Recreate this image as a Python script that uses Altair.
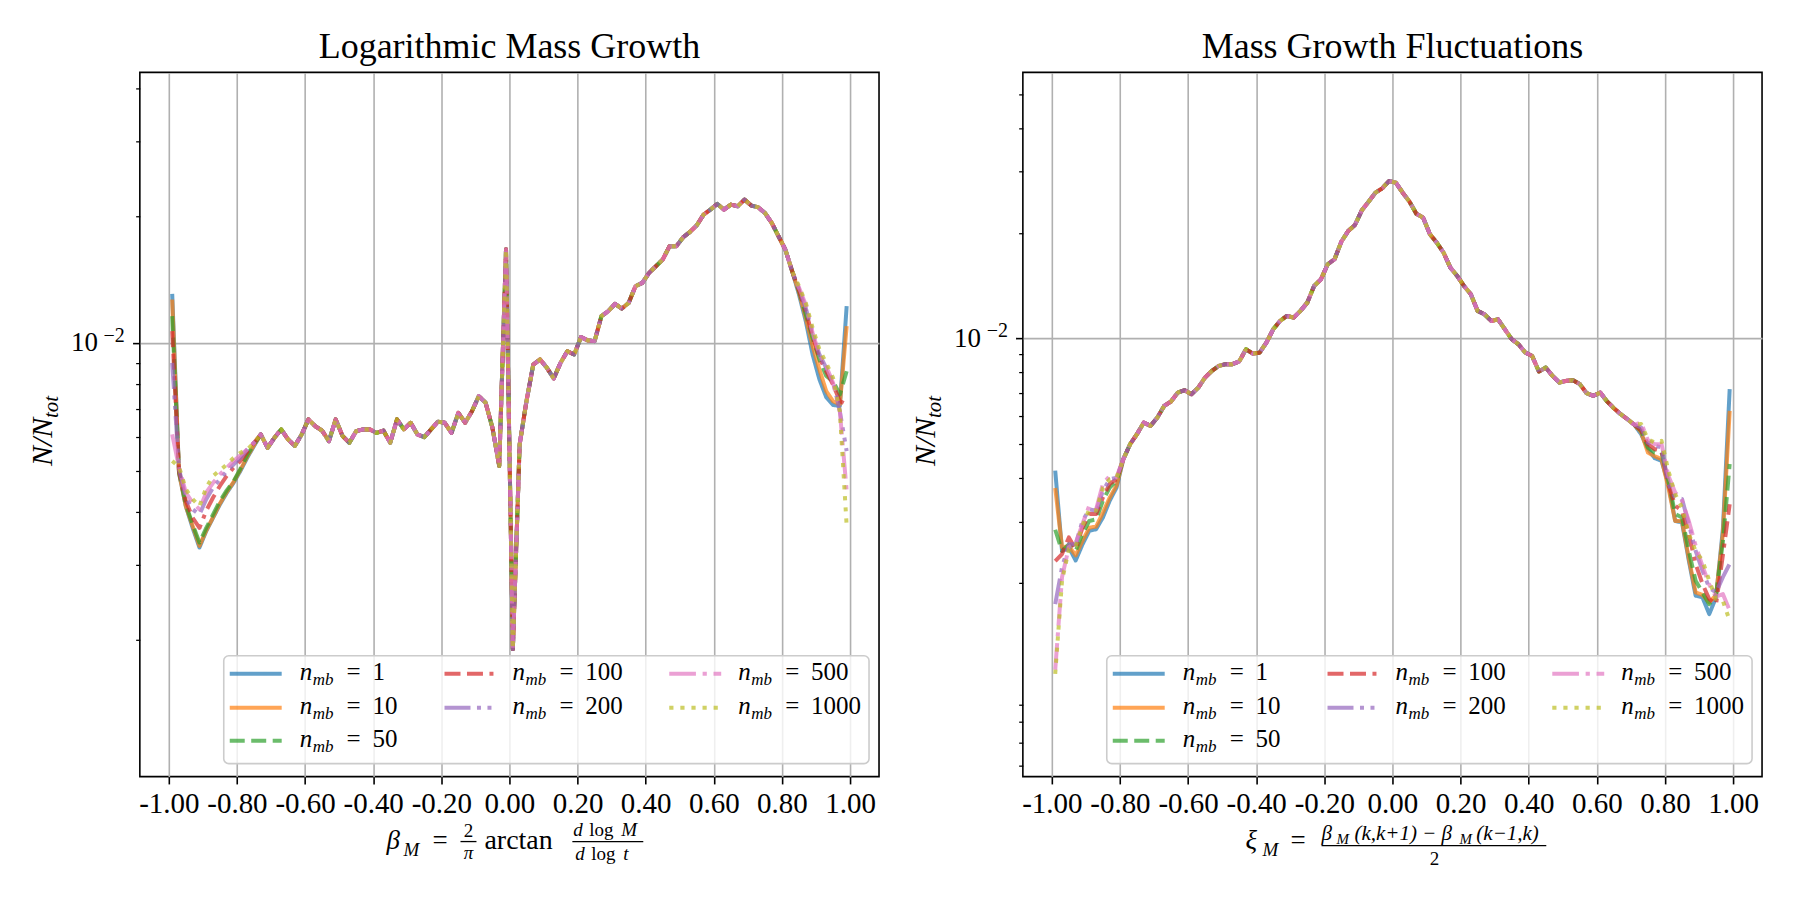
import altair as alt
import pandas as pd

FONT = "Liberation Serif"

SERIES = ["1", "10", "50", "100", "200", "500", "1000"]
COLORS = ["#1f77b4", "#ff7f0e", "#2ca02c", "#d62728", "#9467bd", "#e377c2", "#bcbd22"]
DASHES = [
    [1, 0],
    [1, 0],
    [15, 6.5],
    [16, 6.5, 16, 6.5, 4, 6.5],
    [26, 6.5, 4, 6.5, 4, 6.5],
    [26.7, 6.7, 4.2, 6.7],
    [4.2, 6.9],
]

# histogram bin centres (100 bins of width 0.02 on [-1, 1])
BIN_CENTERS = [round(-0.99 + 0.02 * k, 2) for k in range(100)]

XTICKS = [-1.0, -0.8, -0.6, -0.4, -0.2, 0.0, 0.2, 0.4, 0.6, 0.8, 1.0]

# ---------------- beta_M distribution ----------------
BETA_HEAD = {  # bins 0..12
    "1":    [0.01310, 0.00495, 0.00413, 0.00367, 0.00330, 0.00361, 0.00388, 0.00417, 0.00444, 0.00469, 0.00500, 0.00537, 0.00573],
    "10":   [0.01270, 0.00495, 0.00413, 0.00371, 0.00333, 0.00362, 0.00389, 0.00419, 0.00446, 0.00471, 0.00503, 0.00540, 0.00575],
    "50":   [0.01160, 0.00497, 0.00417, 0.00374, 0.00339, 0.00367, 0.00395, 0.00425, 0.00450, 0.00473, 0.00506, 0.00545, 0.00578],
    "100":  [0.01069, 0.00500, 0.00425, 0.00388, 0.00367, 0.00403, 0.00433, 0.00461, 0.00487, 0.00509, 0.00528, 0.00555, 0.00583],
    "200":  [0.00900, 0.00505, 0.00433, 0.00406, 0.00395, 0.00429, 0.00457, 0.00478, 0.00500, 0.00518, 0.00537, 0.00562, 0.00583],
    "500":  [0.00610, 0.00510, 0.00445, 0.00421, 0.00406, 0.00445, 0.00469, 0.00491, 0.00509, 0.00528, 0.00545, 0.00562, 0.00583],
    "1000": [0.00528, 0.00512, 0.00453, 0.00429, 0.00413, 0.00457, 0.00487, 0.00502, 0.00518, 0.00537, 0.00552, 0.00562, 0.00583],
}
BETA_SHARED = [  # bins 13..91
    0.00610, 0.00567, 0.00599, 0.00627, 0.00594, 0.00573, 0.00610, 0.00662, 0.00638, 0.00623,
    0.00588, 0.00662, 0.00605, 0.00583, 0.00621, 0.00627, 0.00627, 0.00615, 0.00623, 0.00583,
    0.00662, 0.00627, 0.00650, 0.00610, 0.00601, 0.00627, 0.00654, 0.00650, 0.00615, 0.00686,
    0.00650, 0.00692, 0.00751, 0.00725, 0.00633, 0.00514, 0.01670, 0.00190, 0.00578, 0.00731,
    0.00892, 0.00917, 0.00876, 0.00827, 0.00900, 0.00959, 0.00942, 0.01035, 0.01017, 0.01013,
    0.01160, 0.01192, 0.01240, 0.01209, 0.01247, 0.01365, 0.01390, 0.01468, 0.01522, 0.01578,
    0.01697, 0.01697, 0.01781, 0.01834, 0.01901, 0.02015, 0.02070, 0.02135, 0.02070, 0.02127,
    0.02108, 0.02186, 0.02116, 0.02097, 0.02033, 0.01926, 0.01791, 0.01666, 0.01481,
]
BETA_TAIL = {  # bins 92..99
    "1":    [0.01305, 0.01129, 0.00942, 0.00823, 0.00747, 0.00716, 0.00712, 0.01225],
    "10":   [0.01320, 0.01149, 0.00986, 0.00868, 0.00772, 0.00731, 0.00718, 0.01099],
    "50":   [0.01330, 0.01171, 0.01031, 0.00917, 0.00838, 0.00815, 0.00758, 0.00860],
    "100":  [0.01335, 0.01192, 0.01041, 0.00925, 0.00860, 0.00800, 0.00731, 0.00718],
    "200":  [0.01345, 0.01213, 0.01060, 0.00942, 0.00876, 0.00815, 0.00692, 0.00557],
    "500":  [0.01355, 0.01235, 0.01060, 0.00942, 0.00884, 0.00808, 0.00692, 0.00449],
    "1000": [0.01365, 0.01247, 0.01089, 0.00968, 0.00900, 0.00830, 0.00692, 0.00371],
}

# ---------------- xi_M distribution ----------------
XI_HEAD = {  # bins 0..9
    "1":    [0.00419, 0.00247, 0.00253, 0.00232, 0.00258, 0.00282, 0.00285, 0.00308, 0.00344, 0.00375],
    "10":   [0.00374, 0.00253, 0.00255, 0.00240, 0.00264, 0.00288, 0.00290, 0.00318, 0.00351, 0.00380],
    "50":   [0.00284, 0.00247, 0.00258, 0.00247, 0.00276, 0.00301, 0.00304, 0.00344, 0.00375, 0.00392],
    "100":  [0.00231, 0.00242, 0.00270, 0.00250, 0.00288, 0.00315, 0.00315, 0.00351, 0.00384, 0.00396],
    "200":  [0.00174, 0.00222, 0.00258, 0.00258, 0.00301, 0.00325, 0.00322, 0.00367, 0.00396, 0.00400],
    "500":  [0.00113, 0.00208, 0.00253, 0.00260, 0.00295, 0.00333, 0.00325, 0.00384, 0.00405, 0.00402],
    "1000": [0.00110, 0.00203, 0.00250, 0.00255, 0.00292, 0.00325, 0.00322, 0.00375, 0.00396, 0.00400],
}
XI_SHARED = [  # bins 10..85
    0.00452, 0.00499, 0.00533, 0.00575, 0.00563, 0.00595, 0.00642, 0.00661, 0.00701, 0.00712,
    0.00693, 0.00724, 0.00774, 0.00809, 0.00835, 0.00845, 0.00845, 0.00860, 0.00932, 0.00906,
    0.00911, 0.00974, 0.01063, 0.01123, 0.01161, 0.01148, 0.01200, 0.01267, 0.01414, 0.01477,
    0.01631, 0.01686, 0.01893, 0.02030, 0.02113, 0.02326, 0.02463, 0.02613, 0.02689, 0.02822,
    0.02791, 0.02613, 0.02463, 0.02276, 0.02217, 0.01987, 0.01881, 0.01761, 0.01596, 0.01510,
    0.01414, 0.01339, 0.01200, 0.01174, 0.01123, 0.01135, 0.01063, 0.00996, 0.00963, 0.00912,
    0.00892, 0.00805, 0.00826, 0.00782, 0.00749, 0.00757, 0.00760, 0.00741, 0.00698, 0.00686,
    0.00701, 0.00661, 0.00632, 0.00608, 0.00588, 0.00567,
]
XI_TAIL = {  # bins 86..99
    "1":    [0.00533, 0.00483, 0.00455, 0.00447, 0.00384, 0.00301, 0.00298, 0.00232, 0.00184, 0.00182, 0.00163, 0.00182, 0.00285, 0.00717],
    "10":   [0.00540, 0.00472, 0.00461, 0.00452, 0.00375, 0.00301, 0.00301, 0.00235, 0.00188, 0.00185, 0.00176, 0.00185, 0.00276, 0.00621],
    "50":   [0.00545, 0.00488, 0.00472, 0.00472, 0.00392, 0.00315, 0.00308, 0.00247, 0.00203, 0.00188, 0.00174, 0.00185, 0.00262, 0.00438],
    "100":  [0.00547, 0.00499, 0.00483, 0.00478, 0.00384, 0.00333, 0.00322, 0.00276, 0.00227, 0.00199, 0.00180, 0.00174, 0.00240, 0.00336],
    "200":  [0.00557, 0.00504, 0.00494, 0.00488, 0.00384, 0.00351, 0.00348, 0.00295, 0.00247, 0.00217, 0.00194, 0.00188, 0.00208, 0.00227],
    "500":  [0.00575, 0.00512, 0.00499, 0.00499, 0.00405, 0.00363, 0.00344, 0.00301, 0.00256, 0.00224, 0.00198, 0.00183, 0.00186, 0.00167],
    "1000": [0.00570, 0.00515, 0.00504, 0.00510, 0.00419, 0.00359, 0.00329, 0.00276, 0.00247, 0.00232, 0.00203, 0.00180, 0.00178, 0.00156],
}

BETA_YDOMAIN = [9.50e-4, 4.363e-2]
XI_YDOMAIN = [5.59e-4, 5.768e-2]
BETA_YTICKS = [0.002, 0.003, 0.004, 0.005, 0.006, 0.007, 0.008, 0.009, 0.01, 0.02, 0.03, 0.04]
XI_YTICKS = [0.0006, 0.0007, 0.0008, 0.0009, 0.002, 0.003, 0.004, 0.005, 0.006, 0.007,
             0.008, 0.009, 0.01, 0.02, 0.03, 0.04, 0.05]

PANEL_W, PANEL_H = 740, 705


def long_table(head, shared, tail):
    rows = []
    for s in SERIES:
        vals = head[s] + shared + tail[s]
        for x, v in zip(BIN_CENTERS, vals):
            rows.append({"x": x, "y": v, "series": s})
    return pd.DataFrame(rows)


def px_enc():
    return dict(x=alt.X("px:Q", scale=None, axis=None), y=alt.Y("py:Q", scale=None, axis=None))


def text_layer(rows, italic=False, align="left", angle=0):
    return alt.Chart(pd.DataFrame(rows)).mark_text(
        font=FONT, fontStyle="italic" if italic else "normal", align=align,
        baseline="alphabetic", angle=angle, color="black",
    ).encode(text="t:N", size=alt.Size("fs:Q", scale=None, legend=None), **px_enc())


def text_layers(rows, angle=0):
    out = []
    for it in (False, True):
        for al in ("left", "center", "right"):
            sub = [r for r in rows if r["it"] == it and r["al"] == al]
            if sub:
                out.append(text_layer(sub, italic=it, align=al, angle=angle))
    return out


def T(t, px, py, fs, it=False, al="left"):
    return {"t": t, "px": px, "py": py, "fs": fs, "it": it, "al": al}


# legend layout: (column, row) of each entry, matplotlib ncol=3 ordering
LEGEND_SLOTS = {"1": (0, 0), "10": (0, 1), "50": (0, 2), "100": (1, 0),
                "200": (1, 1), "500": (2, 0), "1000": (2, 1)}
COL_HANDLE_X = [90, 305, 530]
COL_TEXT_X = [160, 373, 599]
ROW_Y = [602, 636, 669]


def legend_layers(color, dash):
    box = alt.Chart(pd.DataFrame([{"px": 84, "px2": 730, "py": 584, "py2": 692}])).mark_rect(
        fill="white", fillOpacity=0.8, stroke="#cccccc", strokeWidth=1.6, cornerRadius=5
    ).encode(x2="px2:Q", y2="py2:Q", **px_enc())
    handles, rows = [], []
    for s in SERIES:
        c, r = LEGEND_SLOTS[s]
        hx, tx, ry = COL_HANDLE_X[c], COL_TEXT_X[c], ROW_Y[r]
        handles.append({"series": s, "px": hx, "px2": hx + 52, "py": ry})
        rows += [
            T("n", tx, ry + 6, 25, it=True),
            T("mb", tx + 13, ry + 11, 17, it=True),
            T("=", tx + 47, ry + 6, 25),
            T(s, tx + 73, ry + 6, 25),
        ]
    hl = alt.Chart(pd.DataFrame(handles)).mark_rule(
        strokeWidth=4, opacity=0.7, strokeCap="butt"
    ).encode(x2="px2:Q", color=color, strokeDash=dash, **px_enc())
    return [box, hl] + text_layers(rows)


YLABEL_N = [T("N/N", -88, 394, 30, it=True)]
YLABEL_SUB = [T("tot", -82, 346, 21, it=True)]

BETA_XLABEL = [
    T("β", 247, 777, 27, it=True),
    T("M", 264, 784, 19, it=True),
    T("=", 293, 777, 27),
    T("2", 329, 765, 19, al="center"),
    T("π", 329, 787, 19, it=True, al="center"),
    T("arctan", 345, 777, 28),
    T("d", 434, 764, 19, it=True),
    T("log", 450, 764, 19),
    T("M", 482, 764, 19, it=True),
    T("d", 436, 788, 19, it=True),
    T("log", 452, 788, 19),
    T("t", 484, 788, 19, it=True),
]
BETA_BARS = [{"px": 321, "px2": 337, "py": 770}, {"px": 433, "px2": 504, "py": 770}]

XI_XLABEL = [
    T("ξ", 223, 777, 27, it=True),
    T("M", 240, 784, 19, it=True),
    T("=", 268, 777, 27),
    T("β", 299, 768, 21, it=True),
    T("M", 314, 772, 15, it=True),
    T("(k,k+1) − β", 332, 768, 21, it=True),
    T("M", 437, 772, 15, it=True),
    T("(k−1,k)", 454, 768, 21, it=True),
    T("2", 412, 793, 19, al="center"),
]
XI_BARS = [{"px": 299, "px2": 524, "py": 774}]


def panel(df, ydom, yticks, title, xlabel, bars, anchor=None):
    xs = alt.Scale(domain=[-1.085, 1.085], nice=False, zero=False)
    ys = alt.Scale(type="log", domain=ydom, nice=False)
    xaxis = alt.Axis(
        values=XTICKS, labelExpr="replace(format(datum.value, '.2f'), '\u2212', '-')",
        labelFont=FONT, labelFontSize=29, labelColor="black", labelPadding=6,
        labelOverlap=False, labelFlush=False,
        tickSize=7.3, tickWidth=1.6, tickColor="black",
        grid=True, gridColor="#b0b0b0", gridWidth=1.6, domain=False, title=None,
    )
    yaxis = alt.Axis(
        values=yticks, labels=False, title=None, domain=False,
        tickColor="black",
        tickSize={"condition": {"test": "datum.value === 0.01", "value": 7.3}, "value": 4.2},
        tickWidth={"condition": {"test": "datum.value === 0.01", "value": 1.6}, "value": 1.25},
        grid=True, gridColor="#b0b0b0", gridWidth=1.6,
        gridOpacity={"condition": {"test": "datum.value === 0.01", "value": 1}, "value": 0},
    )
    color = alt.Color("series:N", scale=alt.Scale(domain=SERIES, range=COLORS), legend=None)
    dash = alt.StrokeDash("series:N", scale=alt.Scale(domain=SERIES, range=DASHES), legend=None)

    lines = alt.Chart(df).mark_line(
        strokeWidth=4, opacity=0.7, clip=True, strokeJoin="round", strokeCap="butt"
    ).encode(
        x=alt.X("x:Q", scale=xs, axis=xaxis),
        y=alt.Y("y:Q", scale=ys, axis=yaxis),
        color=color, strokeDash=dash, detail="series:N",
    )

    tick_df = pd.DataFrame({"y": [0.01]})
    ten = alt.Chart(tick_df).mark_text(
        font=FONT, fontSize=27, align="right", baseline="middle", color="black"
    ).encode(y=alt.Y("y:Q", scale=ys, axis=yaxis), x=alt.value(-42), text=alt.value("10"))
    exp = alt.Chart(tick_df).mark_text(
        font=FONT, fontSize=20, align="right", baseline="middle", color="black", dy=-8
    ).encode(y=alt.Y("y:Q", scale=ys, axis=yaxis), x=alt.value(-15), text=alt.value("−2"))

    bar_layer = alt.Chart(pd.DataFrame(bars)).mark_rule(color="black", strokeWidth=1.3).encode(
        x2="px2:Q", **px_enc()
    )

    layers = [lines, ten, exp] + legend_layers(color, dash)
    layers += text_layers(xlabel) + [bar_layer]
    layers += text_layers(YLABEL_N, angle=270) + text_layers(YLABEL_SUB, angle=270)
    layers += text_layers([T(title, PANEL_W / 2, -14, 36, al="center")])
    if anchor is not None:
        layers.append(
            alt.Chart(pd.DataFrame([anchor])).mark_rect(opacity=0).encode(
                x2="px2:Q", y2="py2:Q", **px_enc()
            )
        )

    return alt.layer(*layers).properties(width=PANEL_W, height=PANEL_H)


beta_df = long_table(BETA_HEAD, BETA_SHARED, BETA_TAIL)
xi_df = long_table(XI_HEAD, XI_SHARED, XI_TAIL)

# invisible frame fixing the page extent around the left panel's origin
PAGE = {"px": -139, "px2": 1661, "py": -71, "py2": 829}

left = panel(beta_df, BETA_YDOMAIN, BETA_YTICKS, "Logarithmic Mass Growth",
             BETA_XLABEL, BETA_BARS, anchor=PAGE)
right = panel(xi_df, XI_YDOMAIN, XI_YTICKS, "Mass Growth Fluctuations",
              XI_XLABEL, XI_BARS)

chart = alt.hconcat(left, right, spacing=144, bounds="flush").properties(
    padding=0, autosize=alt.AutoSizeParams(type="pad"), background="white"
).configure_view(stroke="black", strokeWidth=1.6)

chart.save("out.html", embed_options={"renderer": "svg", "actions": False})
